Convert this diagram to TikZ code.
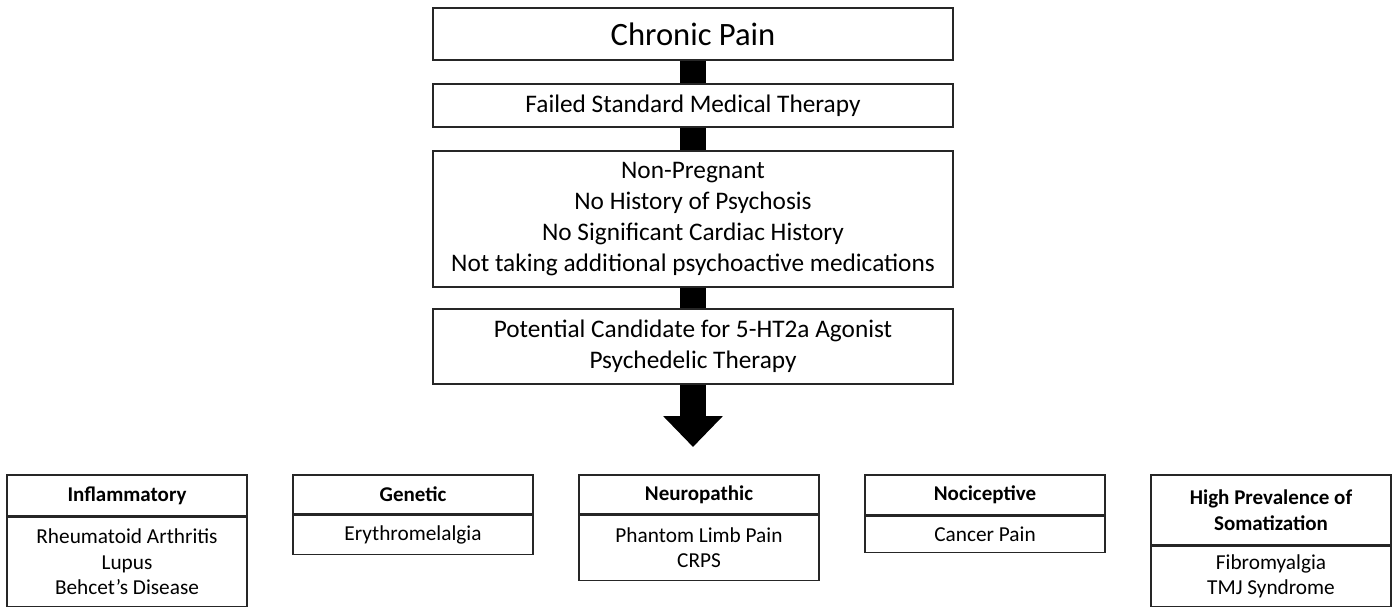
\documentclass[tikz,border=0pt]{standalone}
\usepackage{fontspec}
\setmainfont{Carlito}
\usetikzlibrary{arrows.meta}
\begin{document}
\begin{tikzpicture}[x=1pt,y=-1pt,
  topbox/.style={draw=black!85, line width=1.6pt, fill=white, inner sep=0pt, minimum width=520pt, align=center, font=\fontsize{25.3}{31}\selectfont},
  hdrbox/.style={draw=black!85, line width=1.4pt, fill=white, inner sep=0pt, minimum width=240pt, align=center, font=\fontsize{21}{26}\selectfont\bfseries},
  bodybox/.style={draw=black!85, line width=1.4pt, fill=white, inner sep=0pt, minimum width=240pt, align=center, font=\fontsize{21.3}{25.5}\selectfont},
  bar/.style={line width=26pt, draw=black},
  bigarrow/.style={line width=26pt, draw=black, -{Triangle[width=58pt,length=31pt,fill=black]}}
]
\useasboundingbox (0,0) rectangle (1400,613);
% top flow
\node[topbox, minimum height=52pt, font=\fontsize{32.6}{38}\selectfont] (cp) at (693,34) {Chronic Pain};
\node[topbox, minimum height=43pt] (fs) at (693,105.5) {Failed Standard Medical Therapy};
\node[topbox, minimum height=136pt] (np) at (693,219) {Non-Pregnant\\No History of Psychosis\\No Significant Cardiac History\\Not taking additional psychoactive medications};
\node[topbox, minimum height=75pt] (pc) at (693,346.5) {Potential Candidate for 5-HT2a Agonist\\Psychedelic Therapy};
\coordinate (tip) at (693,447);
\draw[bar] (cp.south) -- (fs.north);
\draw[bar] (fs.south) -- (np.north);
\draw[bar] (np.south) -- (pc.north);
\draw[bigarrow] (pc.south) -- (tip);
% bottom categories
\node[hdrbox, minimum height=41pt] (h1) at (127,495.5) {Inflammatory};
\node[bodybox, minimum height=89pt, anchor=north] (b1) at (h1.south) {Rheumatoid Arthritis\\Lupus\\Behcet’s Disease};
\node[hdrbox, minimum height=39pt] (h2) at (413,494.5) {Genetic};
\node[bodybox, minimum height=39pt, anchor=north] (b2) at (h2.south) {Erythromelalgia};
\node[hdrbox, minimum height=39pt] (h3) at (699,494.5) {Neuropathic};
\node[bodybox, minimum height=65pt, anchor=north] (b3) at (h3.south) {Phantom Limb Pain\\CRPS};
\node[hdrbox, minimum height=40pt] (h4) at (985,495) {Nociceptive};
\node[bodybox, minimum height=36pt, anchor=north] (b4) at (h4.south) {Cancer Pain};
\node[hdrbox, minimum height=70pt] (h5) at (1271,510) {High Prevalence of\\Somatization};
\node[bodybox, minimum height=60pt, anchor=north] (b5) at (h5.south) {Fibromyalgia\\TMJ Syndrome};
\end{tikzpicture}
\end{document}
